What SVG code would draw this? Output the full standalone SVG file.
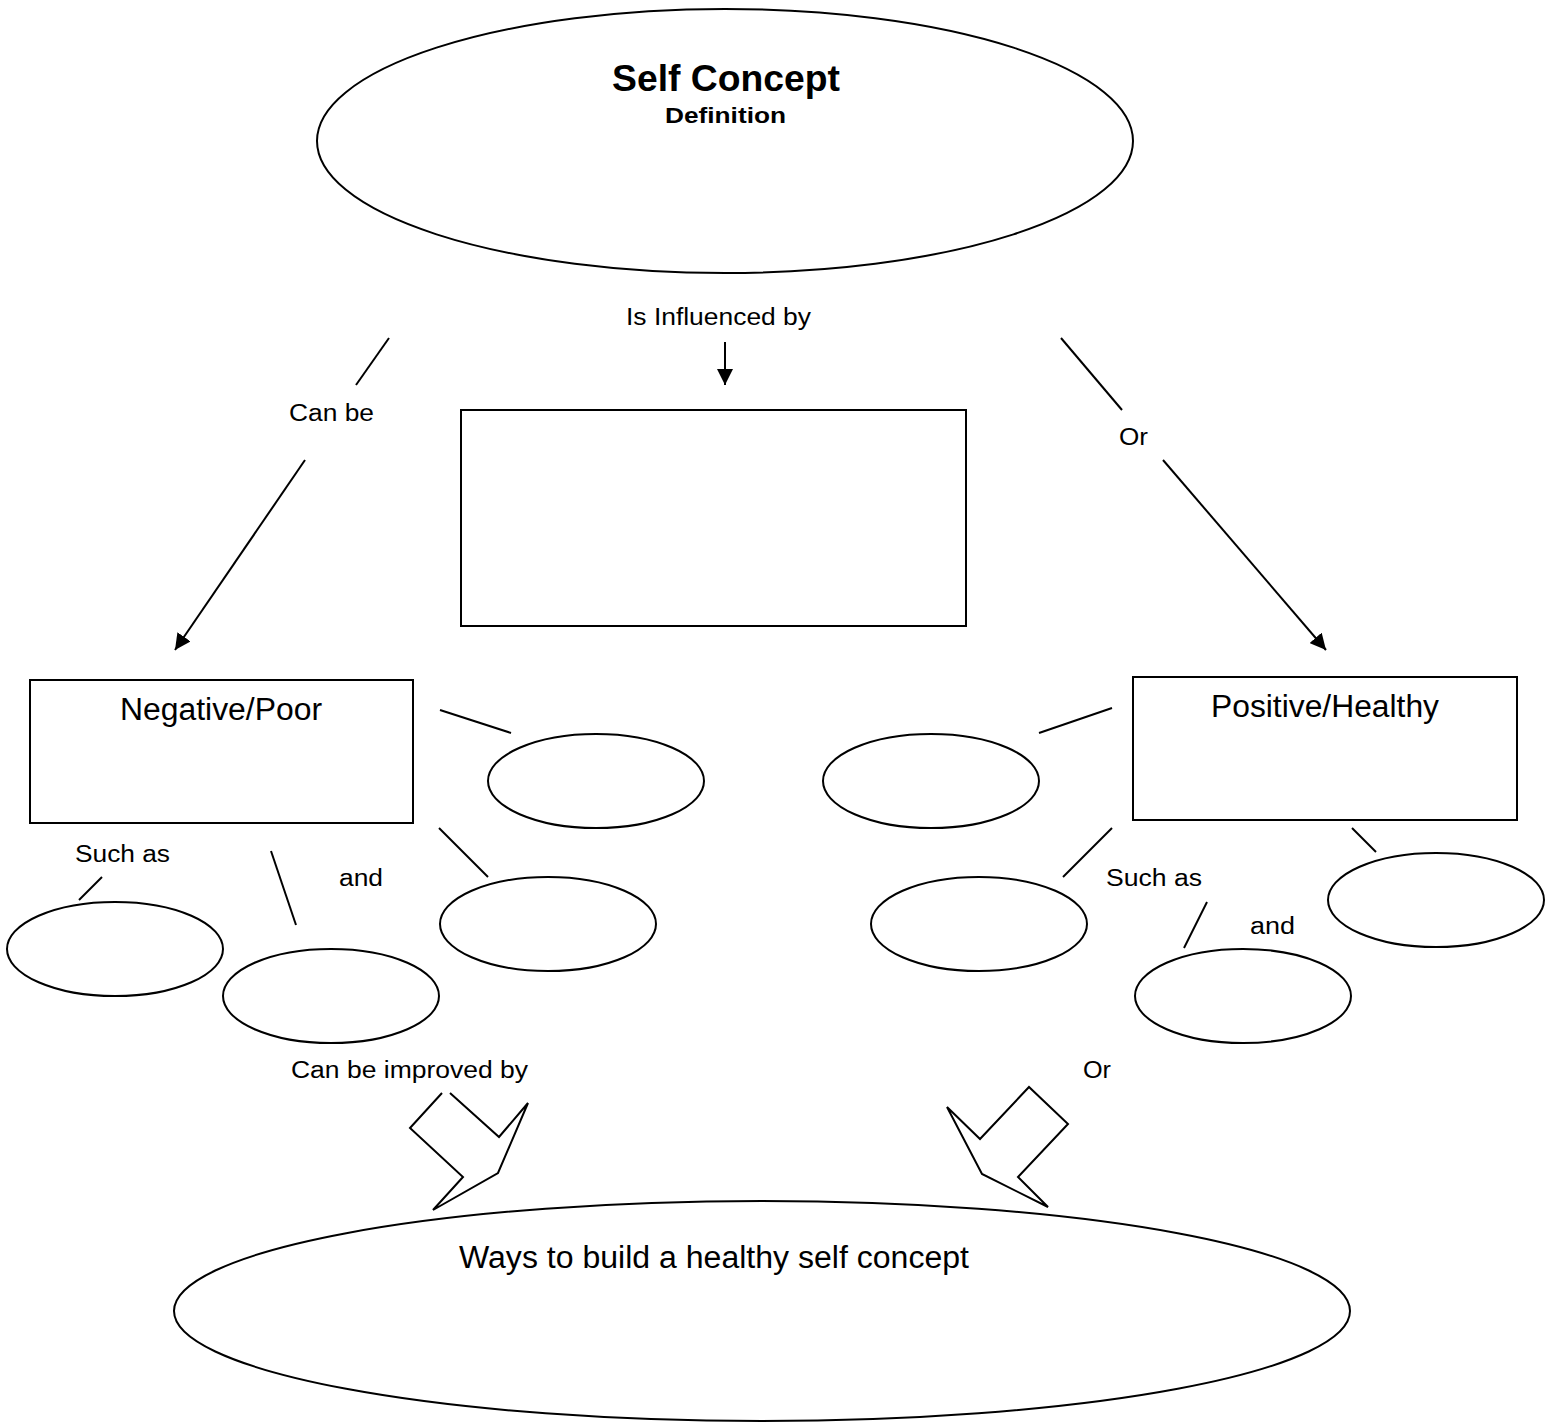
<svg xmlns="http://www.w3.org/2000/svg" width="1554" height="1422" viewBox="0 0 1554 1422">
<style>
.s{fill:none;stroke:#000;stroke-width:2}
.w{fill:#fff;stroke:#000;stroke-width:2}
text{font-family:"Liberation Sans",Arial,sans-serif;fill:#000}
.l{font-size:23px}
.m{font-size:31px}
</style>
<defs>
<marker id="ah" viewBox="0 0 10 10" refX="10" refY="5" markerWidth="16" markerHeight="16" markerUnits="userSpaceOnUse" orient="auto">
<path d="M0,0 L10,5 L0,10 z" fill="#000"/>
</marker>
</defs>
<rect width="1554" height="1422" fill="#fff"/>
<g id="connectors">
<line class="s" x1="725" y1="342" x2="725" y2="385" marker-end="url(#ah)"/>
<line class="s" x1="389" y1="338" x2="356" y2="385"/>
<line class="s" x1="305" y1="460" x2="175" y2="650" marker-end="url(#ah)"/>
<line class="s" x1="1061" y1="338" x2="1122" y2="410"/>
<line class="s" x1="1163" y1="460" x2="1326" y2="650" marker-end="url(#ah)"/>
<line class="s" x1="440" y1="710" x2="511" y2="733"/>
<line class="s" x1="439" y1="828" x2="488" y2="877"/>
<line class="s" x1="271" y1="851" x2="296" y2="925"/>
<line class="s" x1="79" y1="900" x2="102" y2="877"/>
<line class="s" x1="1112" y1="708" x2="1039" y2="733"/>
<line class="s" x1="1112" y1="828" x2="1063" y2="877"/>
<line class="s" x1="1207" y1="902" x2="1184" y2="948"/>
<line class="s" x1="1352" y1="828" x2="1376" y2="852"/>
<polyline class="s" points="442,1093 410,1128 463,1177 433,1210 498,1173 528,1103 499,1137 450,1093"/>
<polygon class="s" points="947,1107 980,1139 1029,1087 1068,1124 1018,1177 1048,1207 982,1174"/>
</g>
<g id="self-concept">
<ellipse class="w" cx="725" cy="141" rx="408" ry="132"/>
<text x="612" y="91" font-size="37" font-weight="bold" textLength="228" lengthAdjust="spacingAndGlyphs">Self Concept</text>
<text x="665" y="123" font-size="22" font-weight="bold" textLength="121" lengthAdjust="spacingAndGlyphs">Definition</text>
</g>
<g id="labels">
<text class="l" x="626" y="325" textLength="185" lengthAdjust="spacingAndGlyphs">Is Influenced by</text>
<text class="l" x="289" y="421" textLength="85" lengthAdjust="spacingAndGlyphs">Can be</text>
<text class="l" x="1119" y="445" textLength="29" lengthAdjust="spacingAndGlyphs">Or</text>
<text class="l" x="75" y="862" textLength="95" lengthAdjust="spacingAndGlyphs">Such as</text>
<text class="l" x="339" y="886" textLength="44" lengthAdjust="spacingAndGlyphs">and</text>
<text class="l" x="1106" y="886" textLength="96" lengthAdjust="spacingAndGlyphs">Such as</text>
<text class="l" x="1250" y="934" textLength="45" lengthAdjust="spacingAndGlyphs">and</text>
<text class="l" x="291" y="1078" textLength="237" lengthAdjust="spacingAndGlyphs">Can be improved by</text>
<text class="l" x="1083" y="1078" textLength="28" lengthAdjust="spacingAndGlyphs">Or</text>
</g>
<g id="influences">
<rect class="w" x="461" y="410" width="505" height="216"/>
</g>
<g id="negative">
<rect class="w" x="30" y="680" width="383" height="143"/>
<text class="m" x="120" y="720" textLength="202" lengthAdjust="spacingAndGlyphs">Negative/Poor</text>
</g>
<g id="positive">
<rect class="w" x="1133" y="677" width="384" height="143"/>
<text class="m" x="1211" y="717" textLength="228" lengthAdjust="spacingAndGlyphs">Positive/Healthy</text>
</g>
<g id="neg-1"><ellipse class="w" cx="596" cy="781" rx="108" ry="47"/></g>
<g id="neg-2"><ellipse class="w" cx="548" cy="924" rx="108" ry="47"/></g>
<g id="neg-3"><ellipse class="w" cx="115" cy="949" rx="108" ry="47"/></g>
<g id="neg-4"><ellipse class="w" cx="331" cy="996" rx="108" ry="47"/></g>
<g id="pos-1"><ellipse class="w" cx="931" cy="781" rx="108" ry="47"/></g>
<g id="pos-2"><ellipse class="w" cx="979" cy="924" rx="108" ry="47"/></g>
<g id="pos-3"><ellipse class="w" cx="1436" cy="900" rx="108" ry="47"/></g>
<g id="pos-4"><ellipse class="w" cx="1243" cy="996" rx="108" ry="47"/></g>
<g id="ways">
<ellipse class="w" cx="762" cy="1311" rx="588" ry="110"/>
<text class="m" x="459" y="1268" textLength="510" lengthAdjust="spacingAndGlyphs">Ways to build a healthy self concept</text>
</g>
</svg>
